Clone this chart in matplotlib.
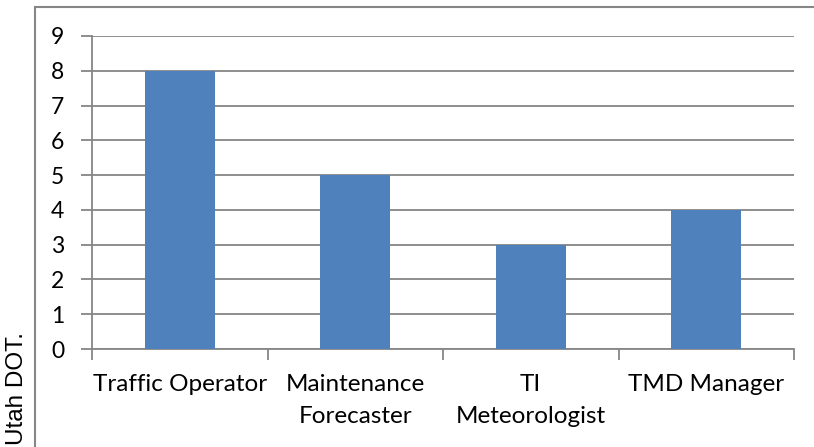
import matplotlib
matplotlib.use('Agg')
import matplotlib.pyplot as plt
from matplotlib.lines import Line2D

# respondents per position
positions = ['Traffic Operator', 'Maintenance\nForecaster', 'TI\nMeteorologist', 'TMD Manager']
counts = [8, 5, 3, 4]
y_ticks = list(range(0, 10))

bar_color = '#4F81BD'
grey = '#868686'

fig = plt.figure(figsize=(8.14, 4.47), dpi=100)
W, H = 814.0, 447.0
ax = fig.add_axes([92 / W, 1 - 349 / H, (794 - 92) / W, (349 - 36) / H])

x = list(range(len(positions)))
ax.bar(x, counts, width=0.4, color=bar_color, zorder=3)

ax.set_xlim(-0.5, len(positions) - 0.5)
ax.set_ylim(0, 9)
ax.set_yticks(y_ticks)
ax.set_yticklabels([str(v) for v in y_ticks], fontsize=16.5, family='Lato')
ax.set_xticks(x)
ax.set_xticklabels(positions, fontsize=17.5, family='Lato', linespacing=1.65)
ax.set_xticks([i - 0.5 for i in range(len(positions) + 1)], minor=True)

ax.tick_params(axis='y', length=8, width=1.3, color=grey, pad=12)
ax.tick_params(axis='x', which='major', length=0, pad=18)
ax.tick_params(axis='x', which='minor', length=8, width=1.3, color=grey)
ax.yaxis.grid(True, color=grey, linewidth=1.3, zorder=0)

for side in ['top', 'right']:
    ax.spines[side].set_visible(False)
for side in ['left', 'bottom']:
    ax.spines[side].set_color(grey)
    ax.spines[side].set_linewidth(1.3)

# outer chart frame
fig.add_artist(Line2D([35 / W, 35 / W], [0, 1 - 7 / H], color=grey, linewidth=1.5))
fig.add_artist(Line2D([35 / W, 1], [1 - 7 / H, 1 - 7 / H], color=grey, linewidth=1.5))

fig.text(17.5 / W, 2 / H, 'Utah DOT.', rotation=90, ha='center', va='bottom',
         fontsize=17.5, family='Liberation Sans')

fig.savefig('out.png', dpi=100, facecolor='white')
